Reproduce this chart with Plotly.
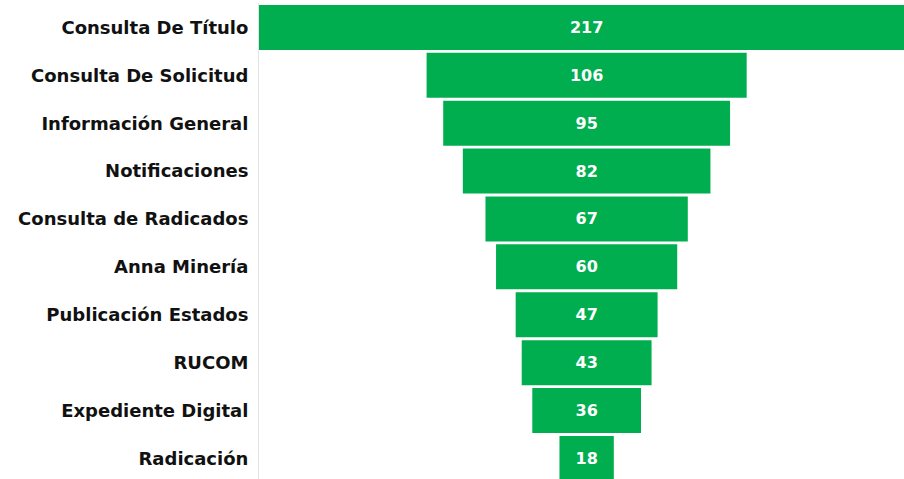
import plotly.graph_objects as go

categories = ["Consulta De Título", "Consulta De Solicitud", "Información General",
              "Notificaciones", "Consulta de Radicados", "Anna Minería",
              "Publicación Estados", "RUCOM", "Expediente Digital", "Radicación"]
values = [217, 106, 95, 82, 67, 60, 47, 43, 36, 18]

GREEN = "#00AE4F"
FONT = "DejaVu Sans"

fig = go.Figure(go.Funnel(
    y=categories,
    x=values,
    textinfo="value",
    textposition="inside",
    insidetextanchor="middle",
    textfont=dict(family=FONT, size=16, color="white", weight="bold"),
    marker=dict(color=GREEN, line=dict(width=0)),
    connector=dict(visible=False),
    hoverinfo="x+y",
))

fig.update_layout(
    width=904, height=479,
    margin=dict(l=259, r=0, t=3, b=0),
    paper_bgcolor="white", plot_bgcolor="white",
    showlegend=False,
    funnelgap=0.06,
    xaxis=dict(range=[-108.5, 105.1], visible=False, showgrid=False, zeroline=False),
    yaxis=dict(range=[9.43, -0.51], showgrid=False, zeroline=False,
               showline=True, linecolor="#e3e3e3", linewidth=1,
               ticks="", ticklabelstandoff=6,
               tickfont=dict(family=FONT, size=18, color="#111111", weight="bold")),
    font=dict(family=FONT),
)

fig.write_html("out.html", config={"displayModeBar": False},
               post_script="document.body.style.margin='0';document.body.style.padding='0';")
